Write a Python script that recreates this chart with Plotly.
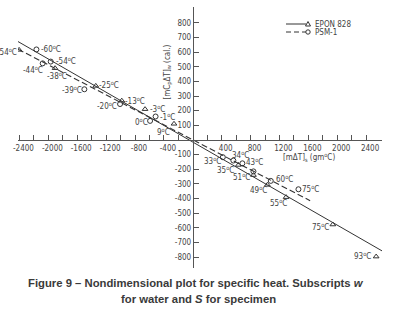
import plotly.graph_objects as go

# ---- data ----
x_range = [-2420, 2620]
y_range = [-875, 908]

epon_line_x = [-2420, 2620]
epon_line_y = [672, -758]
psm_line_x = [-2420, 1625]
psm_line_y = [620, -415]

epon_temp = ["-54", "-38", "-25", "-13", "-3", "9", "35", "51", "49", "55", "75", "93"]
epon_x = [-2405, -1907, -1343, -983, -661, -260, 632, 840, 1033, 1292, 1939, 2539]
epon_y = [615, 490, 369, 268, 210, 110, -171, -240, -307, -391, -578, -797]

psm_temp = ["-60", "-54", "-44", "-39", "-20", "-1", "0", "33", "34", "43", "", "60", "75"]
psm_x = [-2165, -1967, -2078, -1501, -1007, -515, -591, 416, 562, 687, 840, 1080, 1463]
psm_y = [618, 535, 523, 346, 245, 160, 130, -118, -141, -160, -215, -280, -337]

x_tick_vals = [v for v in range(-2400, 2401, 200) if v != 0]
x_tick_text = [str(v) if v % 400 == 0 else "" for v in x_tick_vals]
y_tick_vals = [v for v in range(-800, 801, 100) if v != 0]
y_tick_text = [str(v) for v in y_tick_vals]

series_names = ["EPON 828", "PSM-1"]

# label offsets in pixels (dx right, dy down)
epon_label_off = [(-12, 2), (2, 8), (13, -0.5), (13, 0), (12, 0), (-11, 8),
                  (-13, 5), (-12, 1.5), (-9, 5), (-8, 6), (-12, 2), (-14, -1)]
psm_label_off = [(14.5, -0.5), (15, -1), (-10, 6.5), (-12, 0.7), (-13, 1.5), (12, 0.5),
                 (-9, 1.5), (-10, 4), (7, -6), (12, -1), (0, 0), (14, -1.5), (12, 0)]

INK = "#333333"
TXT = "#444444"
FONT = "Liberation Sans Narrow, DejaVu Sans Condensed, sans-serif"

W, H = 399, 316
ML, MT = 18, 7
PW, PH = 364, 261
MR, MB = W - ML - PW, H - MT - PH


def px(xs):
    return (xs - ML) / PW


def py(ys):
    return (MT + PH - ys) / PH


fig = go.Figure()

fig.add_trace(go.Scatter(x=epon_line_x, y=epon_line_y, mode="lines",
                         line=dict(color=INK, width=1), showlegend=False,
                         xaxis="x2", yaxis="y2"))
fig.add_trace(go.Scatter(x=psm_line_x, y=psm_line_y, mode="lines",
                         line=dict(color=INK, width=1.1, dash="6px,3px"), showlegend=False,
                         xaxis="x2", yaxis="y2"))
fig.add_trace(go.Scatter(x=epon_x, y=epon_y, mode="markers",
                         marker=dict(symbol="triangle-up-open", size=5, color=INK,
                                     line=dict(width=1, color=INK)),
                         showlegend=False, xaxis="x2", yaxis="y2"))
fig.add_trace(go.Scatter(x=psm_x, y=psm_y, mode="markers",
                         marker=dict(symbol="circle-open", size=5, color=INK,
                                     line=dict(width=1, color=INK)),
                         showlegend=False, xaxis="x2", yaxis="y2"))

annotations = []
for t, x, y, (dx, dy) in zip(epon_temp, epon_x, epon_y, epon_label_off):
    if t:
        annotations.append(dict(x=x, y=y, xref="x2", yref="y2", text=f"{t}<sup>o</sup>C",
                                showarrow=False, xshift=dx, yshift=-dy,
                                font=dict(family=FONT, size=8, color=TXT)))
for t, x, y, (dx, dy) in zip(psm_temp, psm_x, psm_y, psm_label_off):
    if t:
        annotations.append(dict(x=x, y=y, xref="x2", yref="y2", text=f"{t}<sup>o</sup>C",
                                showarrow=False, xshift=dx, yshift=-dy,
                                font=dict(family=FONT, size=8, color=TXT)))

annotations.append(dict(x=px(337), y=py(157), xref="paper", yref="paper",
                        text="[m\u0394T]<sub>s</sub> (gm<sup>o</sup>C)", showarrow=False,
                        font=dict(family=FONT, size=8, color=TXT)))
annotations.append(dict(x=px(168), y=py(43), xref="paper", yref="paper", textangle=-90,
                        text="[mC<sub>p</sub>\u0394T]<sub>w</sub> (cal.)", showarrow=False,
                        font=dict(family=FONT, size=8, color=TXT)))
annotations.append(dict(x=px(196), y=py(283), xref="paper", yref="paper", yanchor="middle",
                        text="<b>Figure 9 \u2013 Nondimensional plot for specific heat. Subscripts <i>w</i></b>",
                        showarrow=False,
                        font=dict(family="Liberation Sans, Arial, sans-serif", size=11.3, color="#3a3a3a")))
annotations.append(dict(x=px(198), y=py(299), xref="paper", yref="paper", yanchor="middle",
                        text="<b>for water and <i>S</i> for specimen</b>", showarrow=False,
                        font=dict(family="Liberation Sans, Arial, sans-serif", size=11.3, color="#3a3a3a")))

# manual legend (line sample with marker at its right end, then the name)
shapes = []
leg_rows = [24, 32]
for i, name in enumerate(series_names):
    yy = py(leg_rows[i])
    shapes.append(dict(type="line", xref="paper", yref="paper", x0=px(286), x1=px(306),
                       y0=yy, y1=yy, line=dict(color=INK, width=1,
                                               dash="solid" if i == 0 else "5px,3px")))
    if i == 0:
        shapes.append(dict(type="path", xref="paper", yref="paper",
                           xsizemode="pixel", ysizemode="pixel", xanchor=px(308), yanchor=yy,
                           path="M-2.5,-2 L2.5,-2 L0,2.5 Z",
                           line=dict(color=INK, width=1), fillcolor="white"))
    else:
        shapes.append(dict(type="circle", xref="paper", yref="paper",
                           xsizemode="pixel", ysizemode="pixel", xanchor=px(308), yanchor=yy,
                           x0=-2.2, x1=2.2, y0=-2.2, y1=2.2,
                           line=dict(color=INK, width=1), fillcolor="white"))
    annotations.append(dict(x=px(313), y=yy, xref="paper", yref="paper", xanchor="left",
                            yanchor="middle", text=name, showarrow=False,
                            font=dict(family=FONT, size=8, color=TXT)))

frame_axis = dict(showline=True, mirror=True, linecolor="#555555", linewidth=1,
                  showticklabels=False, ticks="", showgrid=False, zeroline=False,
                  automargin=False)

fig.update_layout(
    width=W, height=H,
    margin=dict(l=ML, r=MR, t=MT, b=MB, pad=0),
    paper_bgcolor="white", plot_bgcolor="white",
    xaxis=dict(range=x_range, **frame_axis),
    yaxis=dict(range=y_range, **frame_axis),
    xaxis2=dict(range=x_range, overlaying="x", anchor="free", automargin=False,
                position=(0 - y_range[0]) / (y_range[1] - y_range[0]),
                showline=True, linecolor="#555555", linewidth=1,
                tickmode="array", tickvals=x_tick_vals, ticktext=x_tick_text,
                ticks="inside", ticklen=5, tickcolor="#555555", tickwidth=1,
                ticklabelshift=4,
                showgrid=False, zeroline=False,
                tickfont=dict(family=FONT, size=8, color=TXT)),
    yaxis2=dict(range=y_range, overlaying="y", anchor="free", automargin=False,
                position=(0 - x_range[0]) / (x_range[1] - x_range[0]),
                showline=True, linecolor="#555555", linewidth=1,
                tickmode="array", tickvals=y_tick_vals, ticktext=y_tick_text,
                ticks="inside", ticklen=5, tickcolor="#555555", tickwidth=1,
                showgrid=False, zeroline=False,
                tickfont=dict(family=FONT, size=8, color=TXT)),
    annotations=annotations,
    shapes=shapes,
    showlegend=False,
    hovermode=False,
)

# remove the browser's default 8px body margin so the figure starts at the window corner
fig.write_html("out.html", config={"displayModeBar": False, "staticPlot": True},
               post_script="document.body.style.margin='0px';")
